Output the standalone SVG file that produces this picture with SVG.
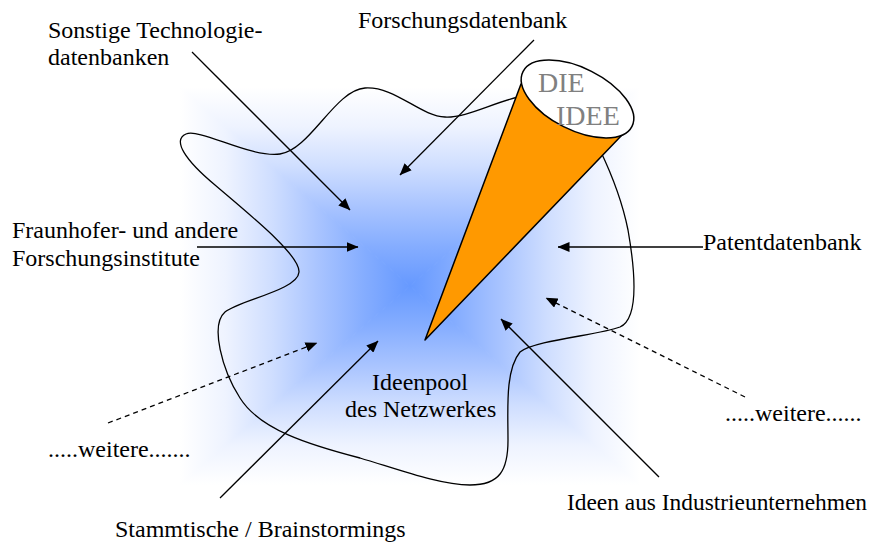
<svg xmlns="http://www.w3.org/2000/svg" xmlns:xlink="http://www.w3.org/1999/xlink" width="872" height="548" viewBox="0 0 872 548">
<style>
.t{font-family:"Liberation Serif","Times New Roman",serif;font-size:24px;fill:#000}
.idee{font-family:"Liberation Serif","Times New Roman",serif;font-size:28px;fill:#808080}
.ln{stroke:#000;stroke-width:1.3;fill:none}
.dash{stroke-dasharray:5,4}
</style>
<defs>
<marker id="ah" markerUnits="userSpaceOnUse" markerWidth="12" markerHeight="10" refX="11.5" refY="5" orient="auto">
<path d="M0,0 L12,5 L0,10 z" fill="#000"/>
</marker>
<linearGradient id="gL" gradientUnits="userSpaceOnUse" x1="180" y1="0" x2="410" y2="0">
<stop offset="0" stop-color="#ffffff"/><stop offset="0.2" stop-color="#eef3ff"/><stop offset="0.4" stop-color="#cfdeff"/><stop offset="0.6" stop-color="#a9c4ff"/><stop offset="0.8" stop-color="#85adff"/><stop offset="1" stop-color="#6699ff"/>
</linearGradient>
<linearGradient id="gR" xlink:href="#gL" gradientUnits="userSpaceOnUse" x1="640" y1="0" x2="410" y2="0"/>
<linearGradient id="gT" xlink:href="#gL" gradientUnits="userSpaceOnUse" x1="0" y1="87" x2="0" y2="286"/>
<linearGradient id="gB" xlink:href="#gL" gradientUnits="userSpaceOnUse" x1="0" y1="485" x2="0" y2="286"/>
</defs>

<g id="pool-shading">
<polygon points="180,87 410,286 180,485" fill="url(#gL)" stroke="url(#gL)" stroke-width="1"/>
<polygon points="640,87 410,286 640,485" fill="url(#gR)" stroke="url(#gR)" stroke-width="1"/>
<polygon points="180,87 640,87 410,286" fill="url(#gT)" stroke="url(#gT)" stroke-width="1"/>
<polygon points="180,485 640,485 410,286" fill="url(#gB)" stroke="url(#gB)" stroke-width="1"/>
</g>

<g id="pool-outline">
<path class="ln" stroke-width="1.2" d="M518,97 C490,104 465,118 445,117 C420,116 395,86 365,88 C335,90 310,150 280,154 C250,158 200,128 186,134 C172,140 185,160 215,185 C250,215 300,255 299,272 C298,290 240,300 225,312 C210,325 222,370 240,398 C260,430 310,445 360,458 C400,470 440,485 470,485 C500,485 508,470 508,440 C508,410 505,370 520,352 C535,340 600,335 620,327 C640,318 635,270 628,230 C622,200 612,175 600,150"/>
</g>

<g id="connectors">
<line class="ln" x1="192" y1="52" x2="350" y2="210" marker-end="url(#ah)"/>
<line class="ln" x1="534" y1="40" x2="400" y2="175" marker-end="url(#ah)"/>
<line class="ln" x1="197" y1="247" x2="358" y2="247" marker-end="url(#ah)"/>
<line class="ln" x1="703" y1="247" x2="558" y2="247" marker-end="url(#ah)"/>
<line class="ln dash" x1="745" y1="397" x2="546" y2="298" marker-end="url(#ah)"/>
<line class="ln" x1="659" y1="477" x2="501" y2="319" marker-end="url(#ah)"/>
<line class="ln" x1="220" y1="498" x2="378" y2="341" marker-end="url(#ah)"/>
<line class="ln dash" x1="108" y1="423" x2="317" y2="343" marker-end="url(#ah)"/>
</g>

<g id="idea-cone">
<polygon points="425,340 521,84 622,135" fill="#ff9900" stroke="#000" stroke-width="1.5" stroke-linejoin="round"/>
<ellipse cx="577.5" cy="99" rx="61" ry="31" transform="rotate(26.7 577.5 99)" fill="#ffffff" stroke="#000" stroke-width="1.5"/>
<text class="idee" x="538" y="92">DIE</text>
<text class="idee" x="556" y="125">IDEE</text>
</g>

<g id="label-sonstige"><text class="t" x="48" y="38">Sonstige Technologie-</text><text class="t" x="48" y="65">datenbanken</text></g>
<g id="label-forschungsdb"><text class="t" x="358" y="28">Forschungsdatenbank</text></g>
<g id="label-fraunhofer"><text class="t" x="12" y="238">Fraunhofer- und andere</text><text class="t" x="12" y="266">Forschungsinstitute</text></g>
<g id="label-patent"><text class="t" x="703" y="250">Patentdatenbank</text></g>
<g id="label-pool"><text class="t" x="372" y="390">Ideenpool</text><text class="t" x="345" y="417">des Netzwerkes</text></g>
<g id="label-weitere-right"><text class="t" x="725" y="421">.....weitere......</text></g>
<g id="label-weitere-left"><text class="t" x="48" y="457">.....weitere.......</text></g>
<g id="label-industrie"><text class="t" x="567" y="510" style="font-size:23.4px">Ideen aus Industrieunternehmen</text></g>
<g id="label-stammtische"><text class="t" x="115" y="537">Stammtische / Brainstormings</text></g>
</svg>
